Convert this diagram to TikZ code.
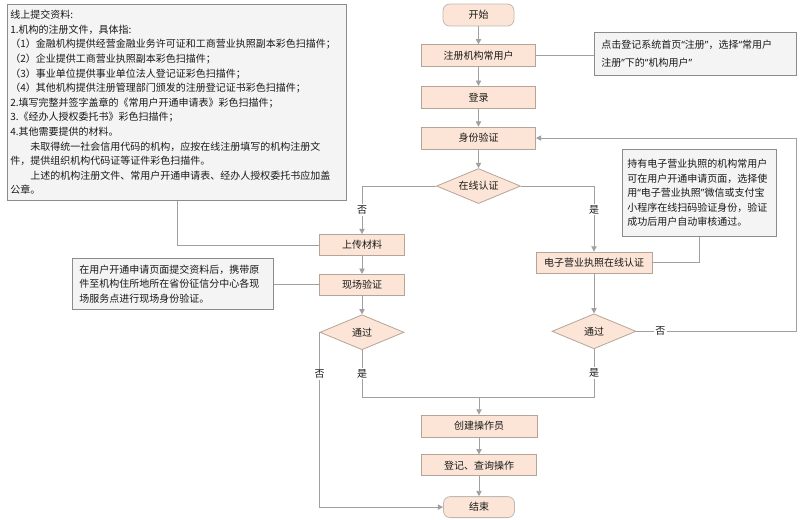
\documentclass[tikz,border=0pt]{standalone}
\usepackage{fontspec}
\setmainfont{Noto Sans CJK SC}
\newfontfamily\quotefont{Noto Sans}
\usetikzlibrary{positioning, shapes.geometric, arrows.meta}

\definecolor{boxfill}{RGB}{252,229,214}
\definecolor{boxline}{RGB}{180,165,152}
\definecolor{termline}{RGB}{190,185,180}
\definecolor{notefill}{RGB}{244,244,244}
\definecolor{noteline}{RGB}{140,140,140}
\definecolor{flowline}{RGB}{160,160,160}

\newcommand{\qo}{{\quotefont “}}
\newcommand{\qc}{{\quotefont ”}}

\tikzset{
  base/.style={draw=boxline, fill=boxfill, text=black!90, line width=0.6pt,
               font=\fontsize{7.5pt}{9pt}\selectfont},
  process/.style={base, rectangle, minimum width=85.5pt, minimum height=16.5pt, inner sep=0pt},
  terminal/.style={process, draw=termline, rounded corners=5pt, minimum width=53.25pt},
  decision/.style={base, diamond, aspect=2.4, minimum width=63pt, minimum height=26.25pt, inner sep=0pt},
  note/.style={draw=noteline, fill=notefill, line width=0.6pt, text=black!90, align=left,
               anchor=north west, inner ysep=2pt, font=\fontsize{7.5pt}{10.95pt}\selectfont},
  flow/.style={draw=flowline, line width=0.6pt},
  arrow/.style={flow, -{Triangle[length=4pt, width=4pt]}},
  answer/.style={fill=white, inner sep=1pt, text=black!90, font=\fontsize{7.5pt}{9pt}\selectfont},
}

\begin{document}
\begin{tikzpicture}[x=0.75pt, y=-0.75pt, node distance=14pt]
    \useasboundingbox (0,0) rectangle (800,519);

    % main column
    \node[terminal] (start) at (478.5,15) {开始};
    \node[process, below=13.5pt of start] (reg) {注册机构常用户};
    \node[process, below=of reg] (login) {登录};
    \node[process, below=13.5pt of login] (auth) {身份验证};
    \node[decision, below=of auth] (online) {在线认证};

    % offline branch
    \node[process, minimum width=63.75pt, minimum height=15.75pt] (upload) at (362,245) {上传材料};
    \node[process, minimum width=63.75pt, minimum height=15.75pt, below=13.5pt of upload] (onsite) {现场验证};
    \node[decision, below=14pt of onsite] (passL) {通过};

    % licence branch
    \node[process, minimum width=87pt, minimum height=15.75pt] (elic) at (594,262.5) {电子营业执照在线认证};
    \node[decision, below=30pt of elic] (passR) {通过};

    % end
    \node[process, minimum width=87pt] (create) at (479,426) {创建操作员};
    \node[process, minimum width=86.25pt, minimum height=15.75pt, below=12.75pt of create] (query) {登记、查询操作};
    \node[terminal, minimum height=15.75pt, below=15pt of query] (finish) {结束};

    % notes
    \node[note, text width=249.75pt, inner xsep=2.25pt, minimum height=147pt] (docs) at (7,4) {%
        线上提交资料:\\
        1.机构的注册文件，具体指:\\
        （1）金融机构提供经营金融业务许可证和工商营业执照副本彩色扫描件；\\
        （2）企业提供工商营业执照副本彩色扫描件；\\
        （3）事业单位提供事业单位法人登记证彩色扫描件；\\
        （4）其他机构提供注册管理部门颁发的注册登记证书彩色扫描件；\\
        2.填写完整并签字盖章的《常用户开通申请表》彩色扫描件；\\
        3.《经办人授权委托书》彩色扫描件；\\
        4.其他需要提供的材料。\\
        \hspace*{2em}未取得统一社会信用代码的机构，应按在线注册填写的机构注册文\\
        件，提供组织机构代码证等证件彩色扫描件。\\
        \hspace*{2em}上述的机构注册文件、常用户开通申请表、经办人授权委托书应加盖\\
        公章。};
    \node[note, text width=141pt, inner xsep=5.25pt, minimum height=32.25pt,
          font=\fontsize{7.5pt}{13.5pt}\selectfont] (regnote) at (594,32) {%
        点击登记系统首页\qo 注册\qc ，选择\qo 常用户\\
        注册\qc 下的\qo 机构用户\qc};
    \node[note, text width=108pt, inner xsep=3.75pt, minimum height=65.25pt] (elicnote) at (622,149) {%
        持有电子营业执照的机构常用户\\
        可在用户开通申请页面，选择使\\
        用\qo 电子营业执照\qc 微信或支付宝\\
        小程序在线扫码验证身份，验证\\
        成功后用户自动审核通过。};
    \node[note, text width=140.25pt, inner xsep=5.25pt, minimum height=38.25pt] (sitenote) at (72,258) {%
        在用户开通申请页面提交资料后，携带原\\
        件至机构住所地所在省份征信分中心各现\\
        场服务点进行现场身份验证。};

    % connectors
    \draw[arrow] (start) -- (reg);
    \draw[arrow] (reg) -- (login);
    \draw[arrow] (login) -- (auth);
    \draw[arrow] (auth) -- (online);
    \draw[arrow] (online.west) -| node[answer, pos=0.75] {否} (upload.north);
    \draw[arrow] (online.east) -| node[answer, pos=0.68] {是} (elic.north);
    \draw[arrow] (upload) -- (onsite);
    \draw[arrow] (onsite) -- (passL);
    \draw[arrow] (elic) -- (passR);
    \draw[arrow] (passR.east) -- node[answer, pos=0.15] {否} ++(160,0) |- (auth.east);
    \coordinate (join) at (479,397);
    \draw[flow] (passL.south) -- node[answer] {是} (passL.south |- join) -- (join);
    \draw[flow] (passR.south) -- node[answer] {是} (passR.south |- join) -- (join);
    \draw[arrow] (join) -- (create);
    \draw[arrow] (passL.west) |- node[answer, pos=0.12] {否} (finish.west);
    \draw[arrow] (create) -- (query);
    \draw[arrow] (query) -- (finish);

    % note links
    \draw[flow] (reg.east) -- (reg.east -| regnote.west);
    \draw[flow] (docs.south) |- (upload.west);
    \draw[flow] (onsite.west) -- (onsite.west -| sitenote.east);
    \draw[flow] (elicnote.south) |- (elic.east);
\end{tikzpicture}
\end{document}
